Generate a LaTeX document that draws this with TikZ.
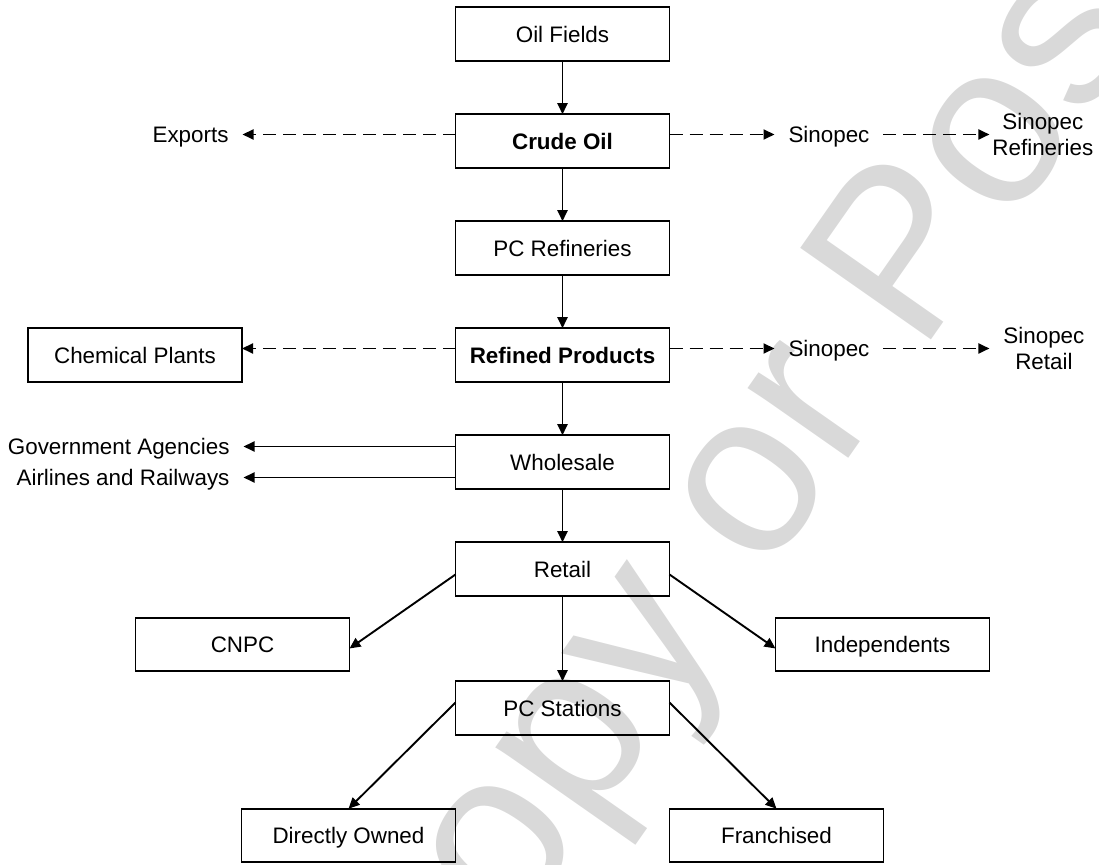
\documentclass[tikz,border=0pt]{standalone}
\usepackage{fontspec}
\setmainfont{Liberation Sans}
\usetikzlibrary{positioning, arrows.meta}

\tikzset{
  box/.style={draw, line width=0.85pt, minimum width=107pt, minimum height=26.75pt,
    inner sep=0pt, outer sep=0pt, text depth=0pt},
  lbl/.style={inner sep=0pt, outer sep=7pt, text depth=0pt, align=center},
  arr/.style={->, line width=0.95pt},
  dasharr/.style={arr, dash pattern=on 6.5pt off 3.5pt}
}

\begin{document}
\begin{tikzpicture}[
  node distance=26.75pt,
  font=\fontsize{11.2}{12.9}\selectfont,
  >={Triangle[length=5.5pt,width=5pt]}]

  \useasboundingbox (0,0) rectangle (549.5pt,-432.5pt);
  \node[anchor=base west, rotate=55, inner sep=0pt, text=black!15,
    font=\fontsize{116}{116}\selectfont] (mark) at (208.75pt,-536.85pt) {Copy or Post};

  \node[box] (oil) at (281.25pt,-17pt) {Oil Fields};
  \node[box, below=of oil] (crude) {\textbf{Crude Oil}};
  \node[box, below=of crude] (pcref) {PC Refineries};
  \node[box, below=of pcref] (refined) {\textbf{Refined Products}};
  \node[box, below=of refined] (whole) {Wholesale};
  \node[box, below=of whole] (retail) {Retail};
  \node[box, below=42.75pt of retail] (pcst) {PC Stations};
  \node[box, below left=11pt and 53pt of retail] (cnpc) {CNPC};
  \node[box, below right=11pt and 53pt of retail] (indep) {Independents};
  \node[box, below left=37pt and 0pt of pcst] (owned) {Directly Owned};
  \node[box, below right=37pt and 0pt of pcst] (franch) {Franchised};
  \node[box, left=106.75pt of refined] (chem) {Chemical Plants};

  \node[lbl, left=106.5pt of crude, yshift=3.25pt] (exports) {Exports};
  \node[lbl, right=52.5pt of crude, yshift=3.25pt] (sino1) {Sinopec};
  \node[lbl, right=53pt of sino1, outer sep=1.5pt] (srefin) {Sinopec\\Refineries};
  \node[lbl, right=52.5pt of refined, yshift=3.25pt] (sino2) {Sinopec};
  \node[lbl, right=53pt of sino2] (sretail) {Sinopec\\Retail};
  \node[lbl, left=106pt of whole, yshift=7.75pt] (govt) {Government Agencies};
  \node[lbl, left=106pt of whole, yshift=-7.75pt] (airl) {Airlines and Railways};

  \draw[arr] (oil) -- (crude);
  \draw[arr] (crude) -- (pcref);
  \draw[arr] (pcref) -- (refined);
  \draw[arr] (refined) -- (whole);
  \draw[arr] (whole) -- (retail);
  \draw[arr] (retail) -- (pcst);

  \draw[dasharr] ([yshift=3.25pt]crude.west) -- (exports);
  \draw[dasharr] ([yshift=3.25pt]crude.east) -- (sino1);
  \draw[dasharr] (sino1) -- (srefin);
  \draw[dasharr] ([yshift=3.25pt]refined.west) -- ([yshift=3.25pt]chem.east);
  \draw[dasharr] ([yshift=3.25pt]refined.east) -- (sino2);
  \draw[dasharr] (sino2) -- (sretail);

  \draw[arr] ([yshift=7.75pt]whole.west) -- (govt);
  \draw[arr] ([yshift=-7.75pt]whole.west) -- (airl);
  \draw[arr] ([yshift=-2.75pt]retail.west) -- ([yshift=-2pt]cnpc.east);
  \draw[arr] ([yshift=-2.75pt]retail.east) -- ([yshift=-2pt]indep.west);
  \draw[arr] ([yshift=2.75pt]pcst.west) -- (owned.north);
  \draw[arr] ([yshift=2.75pt]pcst.east) -- (franch.north);
\end{tikzpicture}
\end{document}
